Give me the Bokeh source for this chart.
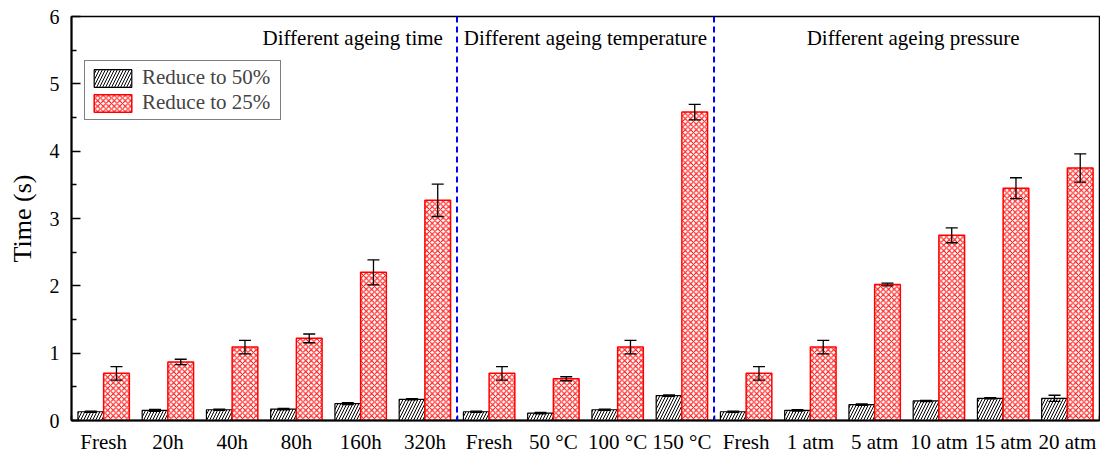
from bokeh.plotting import figure
from bokeh.models import (ColumnDataSource, Whisker, TeeHead, Span, Label, Legend,
                          LegendItem, FixedTicker, LinearAxis, Range1d)
from bokeh.embed import file_html
from bokeh.resources import INLINE

# ---- data ----
categories = ["Fresh", "20h", "40h", "80h", "160h", "320h",
              "Fresh", "50 \u00b0C", "100 \u00b0C", "150 \u00b0C",
              "Fresh", "1 atm", "5 atm", "10 atm", "15 atm", "20 atm"]
reduce50 = [0.13, 0.15, 0.16, 0.17, 0.25, 0.315,
            0.13, 0.11, 0.16, 0.37,
            0.13, 0.15, 0.235, 0.29, 0.33, 0.33]
reduce50_err = [0.01, 0.015, 0.01, 0.01, 0.015, 0.01,
                0.01, 0.01, 0.01, 0.01,
                0.01, 0.01, 0.01, 0.01, 0.01, 0.045]
reduce25 = [0.70, 0.87, 1.09, 1.22, 2.20, 3.27,
            0.70, 0.62, 1.09, 4.58,
            0.70, 1.09, 2.02, 2.75, 3.45, 3.75]
reduce25_err = [0.10, 0.04, 0.10, 0.065, 0.185, 0.24,
                0.10, 0.03, 0.10, 0.115,
                0.10, 0.10, 0.02, 0.11, 0.155, 0.21]
group_sizes = [6, 4, 6]
group_titles = ["Different ageing time", "Different ageing temperature",
                "Different ageing pressure"]
y_ticks = [0, 1, 2, 3, 4, 5, 6]

FONT = "Liberation Serif"
n = len(categories)
idx = list(range(n))

src50 = ColumnDataSource(dict(
    x=[i - 0.2 for i in idx], top=reduce50,
    upper=[v + e for v, e in zip(reduce50, reduce50_err)],
    lower=[v - e for v, e in zip(reduce50, reduce50_err)]))
src25 = ColumnDataSource(dict(
    x=[i + 0.2 for i in idx], top=reduce25,
    upper=[v + e for v, e in zip(reduce25, reduce25_err)],
    lower=[v - e for v, e in zip(reduce25, reduce25_err)]))

p = figure(width=1100, height=456, x_range=Range1d(-0.5, n - 0.5),
           y_range=Range1d(0, 6), output_backend="svg", toolbar_location=None,
           min_border_left=71, min_border_right=1, min_border_top=16,
           min_border_bottom=34, x_axis_type=None, y_axis_type=None)
p.grid.visible = False
p.outline_line_color = "black"
p.outline_line_width = 1.5
p.background_fill_color = "white"
p.border_fill_color = "white"

# bars
r50 = p.vbar(x="x", top="top", width=0.4, source=src50, fill_color="white",
             line_color="black", line_width=1.2, hatch_pattern="/",
             hatch_color="black", hatch_scale=6, hatch_weight=1)
r25 = p.vbar(x="x", top="top", width=0.4, source=src25, fill_color="white",
             line_color="#ff0000", line_width=1.5, hatch_pattern="x",
             hatch_color="#ff0000", hatch_scale=5.5, hatch_weight=1)

for s in (src50, src25):
    w = Whisker(base="x", upper="upper", lower="lower", source=s,
                line_color="black", line_width=1.3, level="annotation",
                upper_head=TeeHead(size=12, line_color="black", line_width=1.3),
                lower_head=TeeHead(size=12, line_color="black", line_width=1.3))
    p.add_layout(w)

# group separators and titles
bounds = [-0.5]
for g in group_sizes:
    bounds.append(bounds[-1] + g)
for b in bounds[1:-1]:
    p.add_layout(Span(location=b, dimension="height", line_color="#0000ff",
                      line_width=2, line_dash="6 4"))

title_y = 5.68
p.add_layout(Label(x=bounds[1] - 0.22, y=title_y, text=group_titles[0],
                   text_align="right", text_baseline="alphabetic",
                   text_font=FONT, text_font_size="21px", text_color="black"))
p.add_layout(Label(x=(bounds[1] + bounds[2]) / 2, y=title_y, text=group_titles[1],
                   text_align="center", text_baseline="alphabetic",
                   text_font=FONT, text_font_size="21px", text_color="black"))
p.add_layout(Label(x=(bounds[2] + bounds[3]) / 2 + 0.1, y=title_y, text=group_titles[2],
                   text_align="center", text_baseline="alphabetic",
                   text_font=FONT, text_font_size="21px", text_color="black"))

# axes
xaxis = LinearAxis(ticker=FixedTicker(ticks=idx, minor_ticks=bounds))
xaxis.major_label_overrides = {i: c for i, c in enumerate(categories)}
xaxis.major_tick_in = 0
xaxis.major_tick_out = 0
xaxis.minor_tick_in = 5
xaxis.minor_tick_out = 0
xaxis.minor_tick_line_width = 1.5
xaxis.axis_line_width = 2
xaxis.major_label_text_font = FONT
xaxis.major_label_text_font_size = "21px"
xaxis.major_label_standoff = 9
xaxis.major_label_text_color = "black"
xaxis.axis_label_standoff = 0
p.add_layout(xaxis, "below")

yaxis = LinearAxis(ticker=FixedTicker(ticks=y_ticks,
                                      minor_ticks=[t + 0.5 for t in y_ticks[:-1]]))
yaxis.major_tick_in = 9
yaxis.major_tick_out = 0
yaxis.minor_tick_in = 5
yaxis.minor_tick_out = 0
yaxis.major_tick_line_width = 1.5
yaxis.minor_tick_line_width = 1.5
yaxis.axis_line_width = 2
yaxis.major_label_text_font = FONT
yaxis.major_label_text_font_size = "20px"
yaxis.major_label_standoff = 12
yaxis.major_label_text_color = "black"
yaxis.axis_label = "Time (s)"
yaxis.axis_label_text_font = FONT
yaxis.axis_label_text_font_size = "26px"
yaxis.axis_label_text_font_style = "normal"
yaxis.axis_label_text_color = "black"
yaxis.axis_label_standoff = 10
p.add_layout(yaxis, "left")

legend = Legend(items=[LegendItem(label="Reduce to 50%", renderers=[r50]),
                       LegendItem(label="Reduce to 25%", renderers=[r25])],
                location=(13, 300))
legend.label_text_font = FONT
legend.label_text_font_size = "21px"
legend.glyph_width = 47
legend.glyph_height = 22
legend.label_height = 22
legend.label_width = 134
legend.padding = 4
legend.spacing = 0
legend.margin = 0
legend.label_standoff = 6
legend.border_line_color = "black"
legend.border_line_width = 1
legend.background_fill_alpha = 1
p.add_layout(legend, "center")

open("out.html", "w").write(file_html(p, INLINE))
